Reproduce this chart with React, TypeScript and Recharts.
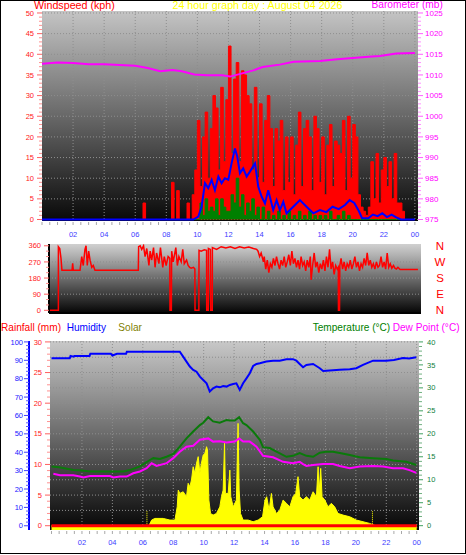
import React from "react";
import { ComposedChart, Area, Line, XAxis, YAxis, CartesianGrid, ReferenceLine } from "recharts";

const FONT = "'Liberation Sans', Arial, Helvetica, sans-serif";

// ---------- tick labels ----------
const hourTicks = [2, 4, 6, 8, 10, 12, 14, 16, 18, 20, 22, 24];
const hourLabels = ["02", "04", "06", "08", "10", "12", "14", "16", "18", "20", "22", "00"];
const windTicks = [0, 5, 10, 15, 20, 25, 30, 35, 40, 45, 50];
const baroTicks = [975, 980, 985, 990, 995, 1000, 1005, 1010, 1015, 1020, 1025];
const dirTicks = [0, 90, 180, 270, 360];
const compassLabels = ["N", "E", "S", "W", "N"];
const humidityTicks = [0, 10, 20, 30, 40, 50, 60, 70, 80, 90, 100];
const rainTicks = [0, 5, 10, 15, 20, 25, 30];
const rainGrid = [2.5, 5, 7.5, 10, 12.5, 15, 17.5, 20, 22.5, 25, 27.5, 30];
const tempTicks = [0, 5, 10, 15, 20, 25, 30, 35, 40];

const range = (a: number, b: number, s: number) => {
  const out: number[] = [];
  for (let v = a; v <= b + 1e-9; v += s) out.push(Math.round(v * 1000) / 1000);
  return out;
};
const hourMinor = range(0, 24, 0.5);
const windMinor = range(0, 50, 1);
const baroMinor = range(975, 1025, 1);
const dirMinor = range(0, 360, 30);
const humMinor = range(0, 100, 2);
const rainMinor = range(0, 30, 1);
const tempMinor = range(0, 40, 1);

// ---------- panel 1 : wind (kph), 10-minute samples from 00:00 ----------
const windGust = [
  0, 0, 0, 0, 0, 0, // 00
  0, 0, 0, 0, 0, 0, // 01
  0, 0, 0, 0, 0, 0, // 02
  0, 0, 0, 0, 0, 0, // 03
  0, 0, 0, 0, 0, 0, // 04
  0, 0, 0, 0, 0, 0, // 05
  0, 0, 0, 4, 0, 0, // 06
  0, 0, 0, 0, 0, 0, // 07
  0, 0, 9, 0, 7, 0, // 08
  0, 0, 4, 0, 6, 12, // 09
  24, 8, 20, 26, 10, 22, // 10
  30, 27, 12, 32, 14, 29, // 11
  42, 16, 34, 38, 14, 36, // 12
  35, 30, 28, 12, 32, 10, // 13
  28, 9, 24, 30, 22, 8, // 14
  22, 19, 24, 7, 20, 9, // 15
  20, 6, 18, 26, 8, 22, // 16
  24, 20, 7, 25, 22, 9, // 17
  20, 6, 18, 23, 8, 19, // 18
  18, 16, 24, 7, 25, 10, // 19
  23, 20, 6, 3, 2, 1, // 20
  3, 14, 5, 16, 4, 12, // 21
  15, 8, 14, 5, 16, 4, // 22
  4, 2, 0, 0, 0, 0, // 23
  0,
];
const windGreen = [
  0, 0, 0, 0, 0, 0, // 00
  0, 0, 0, 0, 0, 0, // 01
  0, 0, 0, 0, 0, 0, // 02
  0, 0, 0, 0, 0, 0, // 03
  0, 0, 0, 0, 0, 0, // 04
  0, 0, 0, 0, 0, 0, // 05
  0, 0, 0, 0, 0, 0, // 06
  0, 0, 0, 0, 0, 0, // 07
  0, 0, 0, 0, 0, 0, // 08
  0, 0, 0, 0, 0, 0, // 09
  0, 4, 1, 5, 2, 3, // 10
  2, 5, 1, 5, 3, 2, // 11
  2, 6, 4, 10, 3, 6, // 12
  1, 4, 2, 5, 1, 3, // 13
  0, 3, 0, 2, 0, 1, // 14
  0, 2, 0, 1, 0, 2, // 15
  0, 1, 0, 2, 0, 1, // 16
  0, 2, 0, 1, 0, 1, // 17
  0, 1, 0, 2, 0, 0, // 18
  1, 0, 2, 0, 1, 0, // 19
  0, 0, 0, 0, 0, 0, // 20
  0, 0, 0, 0, 0, 0, // 21
  0, 0, 0, 0, 0, 0, // 22
  0, 0, 0, 0, 0, 0, // 23
  0,
];
// [hour, kph]
const windAverage: [number, number][] = [
  [0, 0], [9.74, 0], [10.06, 0.7], [10.27, 3.1], [10.49, 8.8], [10.7, 7.6], [10.92, 9.6], [11.13, 7.1],
  [11.35, 10.4], [11.56, 8.8], [11.77, 10.0], [11.99, 9.6], [12.2, 13.6], [12.42, 17.2], [12.57, 15.2],
  [12.74, 11.2], [12.95, 12.4], [13.17, 10.4], [13.38, 11.6], [13.71, 13.6], [13.92, 7.9], [14.14, 5.5],
  [14.35, 3.9], [14.56, 7.1], [14.88, 2.3], [15.1, 4.7], [15.31, 2.3], [15.53, 4.3], [15.74, 1.5],
  [16.17, 3.1], [16.6, 4.7], [17.03, 3.1], [17.46, 1.5], [17.89, 2.3], [18.3, 1.8], [18.7, 3.1],
  [19.1, 2.5], [19.5, 3.5], [19.8, 4.7], [20.1, 4.0], [20.4, 2.0], [20.6, 0.3], [21.0, 0.3], [21.3, 1.2],
  [21.6, 0.8], [21.9, 1.5], [22.2, 0.6], [22.5, 1.2], [22.8, 0.5], [23.1, 0], [24, 0],
];
// [hour, mb]
const barometer: [number, number][] = [
  [0, 1012.7], [1, 1013.0], [2, 1012.9], [3, 1012.6], [4, 1012.6], [5, 1012.4], [6, 1012.2], [6.8, 1011.7],
  [7.6, 1010.9], [8.4, 1011.2], [9.0, 1010.9], [9.8, 1010.1], [10.6, 1009.9], [11.6, 1009.9], [12.1, 1009.6],
  [12.7, 1010.2], [13.6, 1011.1], [14.2, 1011.9], [15.3, 1012.5], [16.2, 1013.2], [17.9, 1013.4], [19, 1013.8],
  [20, 1014.1], [21, 1014.4], [21.75, 1014.6], [22.8, 1015.2], [24, 1015.3],
];

// ---------- panel 2 : wind direction [hour, degrees] ----------
const windDirection: [number, number][] = [
  [0, 0], [0.61, 0], [0.61, 355], [0.7, 345], [0.78, 290], [0.84, 224], [1.5, 224], [1.54, 262], [1.58, 224],
  [2.02, 224], [2.13, 300], [2.23, 250], [2.34, 340], [2.41, 360], [2.49, 250], [2.58, 330], [2.67, 280],
  [2.78, 240], [2.88, 250], [2.99, 224], [5.81, 224], [5.83, 355], [5.93, 360], [6.03, 340], [6.15, 360],
  [6.25, 300], [6.36, 345], [6.5, 250], [6.58, 330], [6.68, 280], [6.8, 350], [6.9, 240], [7.0, 320],
  [7.15, 260], [7.25, 350], [7.4, 240], [7.5, 300], [7.62, 250], [7.75, 300], [7.86, 290], [7.87, 0],
  [7.96, 0], [7.98, 330], [8.08, 270], [8.25, 350], [8.35, 250], [8.45, 300], [8.6, 270], [8.7, 340],
  [8.8, 260], [8.95, 280], [9.05, 250], [9.15, 240], [9.25, 235], [9.4, 240], [9.49, 230], [9.5, 0],
  [9.75, 0], [9.76, 335], [9.9, 330], [10.1, 338], [10.25, 335], [10.26, 0], [10.36, 0], [10.37, 345],
  [10.5, 340], [10.52, 0], [10.62, 0], [10.63, 350], [10.9, 340], [11.2, 355], [11.5, 348], [11.8, 355],
  [12.1, 345], [12.4, 355], [12.7, 348], [13.0, 353], [13.3, 345], [13.51, 340], [13.6, 330], [13.7, 300],
  [13.8, 320], [13.95, 270], [14.0, 300], [14.1, 230], [14.2, 280], [14.3, 210], [14.4, 260], [14.5, 240],
  [14.6, 290], [14.7, 250], [14.8, 300], [14.9, 260], [15.0, 230], [15.1, 280], [15.2, 250], [15.3, 300],
  [15.4, 240], [15.5, 270], [15.6, 310], [15.7, 250], [15.8, 330], [15.9, 260], [16.0, 290], [16.1, 240],
  [16.2, 280], [16.3, 230], [16.4, 300], [16.5, 250], [16.6, 270], [16.7, 220], [16.8, 280], [16.9, 240],
  [17.0, 300], [17.05, 170], [17.15, 250], [17.25, 320], [17.35, 240], [17.45, 270], [17.55, 210],
  [17.65, 260], [17.75, 230], [17.85, 280], [17.95, 220], [18.05, 300], [18.15, 240], [18.25, 340],
  [18.35, 230], [18.45, 270], [18.55, 200], [18.65, 250], [18.75, 230], [18.82, 240], [18.83, 0], [18.9, 0],
  [18.92, 250], [19.0, 290], [19.1, 230], [19.2, 270], [19.3, 220], [19.4, 260], [19.5, 240], [19.6, 280],
  [19.7, 230], [19.8, 260], [19.9, 300], [20.0, 240], [20.1, 270], [20.2, 220], [20.3, 260], [20.4, 240],
  [20.5, 290], [20.6, 250], [20.7, 320], [20.8, 250], [20.9, 280], [21.0, 240], [21.1, 260], [21.2, 230],
  [21.3, 270], [21.4, 240], [21.5, 250], [21.6, 300], [21.7, 240], [21.8, 270], [21.9, 230], [22.0, 320],
  [22.1, 240], [22.2, 260], [22.3, 235], [22.41, 250], [22.5, 235], [22.6, 230], [22.7, 240], [22.84, 228],
  [24, 228],
];

// ---------- panel 3 ----------
const humidity: [number, number][] = [
  [0, 91.1], [1.2, 91.1], [1.25, 92.4], [1.45, 92.0], [1.5, 92.4], [2.5, 92.4], [2.55, 93.5], [3.9, 93.5],
  [4.0, 92.6], [4.3, 93.5], [4.9, 93.5], [4.95, 94.7], [8.43, 94.7], [8.65, 92.0], [8.87, 89.3], [9.09, 86.6],
  [9.31, 84.8], [9.53, 83.8], [9.75, 81.1], [9.97, 79.3], [10.19, 77.5], [10.4, 73.0], [10.62, 74.8],
  [10.84, 75.7], [11.06, 75.3], [11.28, 76.0], [11.5, 75.7], [11.72, 76.6], [11.94, 77.1], [12.15, 77.5],
  [12.37, 73.9], [12.59, 77.5], [12.81, 80.2], [13.03, 83.0], [13.25, 86.9], [13.47, 88.0], [13.69, 88.4],
  [14.12, 89.3], [14.56, 89.8], [15.0, 89.8], [15.44, 90.6], [15.87, 90.6], [16.09, 89.8], [16.31, 88.0],
  [16.53, 86.2], [16.75, 87.5], [17.19, 88.0], [17.4, 86.9], [17.63, 85.7], [17.85, 84.2], [18.28, 84.4],
  [18.94, 84.8], [19.6, 85.1], [20.03, 85.7], [20.47, 87.5], [21.13, 89.8], [22.0, 89.8], [22.5, 90.2],
  [23.1, 91.2], [23.5, 91.0], [23.97, 91.7],
];
const temperature: [number, number][] = [
  [0, 12.9], [0.5, 12.7], [1.43, 12.1], [2.0, 12.0], [2.53, 11.8], [3.5, 11.8], [4.72, 11.8], [5.15, 12.1],
  [5.81, 12.9], [6.47, 14.3], [6.69, 14.7], [7.12, 14.5], [7.56, 15.0], [8.0, 15.6], [8.43, 17.2],
  [8.87, 19.0], [9.31, 20.5], [9.75, 21.9], [9.97, 22.4], [10.3, 23.6], [10.62, 22.7], [11.06, 22.4],
  [11.28, 22.7], [11.5, 23.0], [11.72, 22.9], [12.04, 22.9], [12.33, 23.6], [12.59, 22.3], [12.81, 21.9],
  [13.25, 20.5], [13.69, 18.7], [13.9, 17.1], [14.34, 16.9], [14.78, 16.1], [15.44, 15.0], [15.87, 15.2],
  [16.31, 15.8], [16.75, 15.2], [17.19, 15.0], [17.63, 15.9], [18.06, 16.1], [18.5, 16.1], [18.94, 15.8],
  [19.6, 15.4], [20.25, 14.9], [21.13, 14.7], [22.0, 14.5], [22.44, 14.2], [23.31, 13.9], [23.97, 13.2],
];
const dewPoint: [number, number][] = [
  [0.12, 11.3], [0.56, 11.0], [1.43, 11.0], [1.87, 10.7], [2.09, 10.5], [2.53, 10.8], [3.84, 10.8],
  [4.06, 10.5], [4.5, 10.7], [4.94, 10.7], [5.37, 11.4], [5.81, 11.8], [6.25, 12.5], [6.58, 13.6],
  [6.9, 13.0], [7.56, 13.6], [8.0, 14.7], [8.43, 16.1], [8.87, 17.2], [9.31, 17.4], [9.75, 18.7],
  [10.3, 19.0], [10.62, 18.3], [11.06, 18.4], [11.5, 18.1], [12.04, 18.3], [12.33, 19.0], [12.59, 18.3],
  [13.03, 18.3], [13.47, 17.2], [13.9, 15.2], [14.56, 14.9], [15.22, 13.9], [15.87, 13.6], [16.31, 13.9],
  [16.53, 13.4], [16.75, 13.0], [17.19, 13.2], [17.85, 13.4], [18.5, 13.4], [18.94, 13.0], [19.6, 12.5],
  [20.25, 12.9], [21.13, 13.0], [21.8, 12.9], [22.44, 12.5], [23.1, 12.5], [23.53, 12.1], [23.97, 11.5],
];
// solar radiation (W/m²)
const solar: [number, number][] = [
  [0, 0], [6.4, 0], [6.58, 31], [6.79, 40], [7.34, 40], [7.78, 31], [8.11, 31], [8.26, 103], [8.33, 194],
  [8.43, 176], [8.65, 185], [8.87, 158], [8.98, 231], [9.09, 212], [9.2, 249], [9.31, 321], [9.42, 285],
  [9.53, 340], [9.64, 376], [9.75, 285], [9.85, 340], [9.97, 385], [10.08, 394], [10.19, 430], [10.25, 412],
  [10.34, 140], [10.45, 67], [10.62, 58], [10.84, 67], [11.06, 103], [11.17, 158], [11.28, 194],
  [11.37, 449], [11.43, 176], [11.61, 176], [11.72, 303], [11.78, 158], [11.94, 103], [12.15, 140],
  [12.26, 557], [12.33, 194], [12.42, 67], [12.59, 31], [12.92, 31], [13.25, 22], [13.58, 31], [13.87, 49],
  [14.03, 140], [14.14, 158], [14.3, 85], [14.45, 176], [14.56, 103], [14.78, 67], [15.0, 85], [15.22, 140],
  [15.44, 122], [15.66, 103], [15.87, 158], [16.05, 176], [16.2, 267], [16.31, 158], [16.53, 140],
  [16.75, 158], [16.97, 140], [17.19, 185], [17.41, 158], [17.52, 321], [17.58, 176], [17.69, 312],
  [17.78, 158], [17.96, 140], [18.17, 103], [18.39, 122], [18.61, 103], [18.83, 67], [19.16, 58], [19.6, 49],
  [20.03, 31], [20.47, 22], [20.9, 13], [21.24, 2], [21.3, 0], [24, 0],
];
const rainfall: [number, number][] = [[0, 0], [24, 0]];
const sunTimes = [6.27, 21.09];

const pts = (arr: [number, number][]) => arr.map(([t, v]) => ({ t, v }));
const every10 = (arr: number[]) => arr.map((v, i) => ({ t: i / 6, v }));

const gustData = every10(windGust);
const greenData = every10(windGreen);
const avgData = pts(windAverage);
const baroData = pts(barometer);
const dirData = pts(windDirection);
const humData = pts(humidity);
const tempData = pts(temperature);
const dewData = pts(dewPoint);
const solarData = pts(solar);
const rainData = pts(rainfall);

// ---------- tick renderers ----------
type YOpt = {
  side: "left" | "right";
  majors: number[];
  labels?: string[];
  labelColor: string;
  majorColor: string;
  minorColor: string;
  majorLen: number;
  minorLen: number;
  gap: number;
  fontSize: number;
  anchor?: "start" | "middle" | "end";
};
const yTick = (o: YOpt) => (props: any) => {
  const { x, y, payload } = props;
  const v = payload.value;
  const i = o.majors.findIndex((m) => Math.abs(m - v) < 1e-6);
  const major = i >= 0;
  const d = o.side === "left" ? -1 : 1;
  const len = major ? o.majorLen : o.minorLen;
  return (
    <g>
      {len > 0 && (
        <line x1={x} x2={x + d * len} y1={y} y2={y} stroke={major ? o.majorColor : o.minorColor} strokeWidth={1} />
      )}
      {major && (
        <text
          x={x + d * (o.majorLen + o.gap)}
          y={y}
          dy="0.35em"
          textAnchor={o.anchor ?? (d < 0 ? "end" : "start")}
          fill={o.labelColor}
          fontSize={o.fontSize}
          fontFamily={FONT}
        >
          {o.labels ? o.labels[i] : String(v)}
        </text>
      )}
    </g>
  );
};
const xTick = (gap: number) => (props: any) => {
  const { x, y, payload } = props;
  const v = payload.value;
  const i = hourTicks.findIndex((m) => Math.abs(m - v) < 1e-6);
  return (
    <g>
      <line x1={x} x2={x} y1={y + 1} y2={y + 4} stroke="#a8a8a8" strokeWidth={1} />
      {i >= 0 && (
        <text x={x} y={y + gap} dy="0.71em" textAnchor="middle" fill="#3c3cff" fontSize={7.5} fontFamily={FONT}>
          {hourLabels[i]}
        </text>
      )}
    </g>
  );
};

const noAxis = { axisLine: false, tickLine: false, tickSize: 0, tickMargin: 0, interval: 0 as const, allowDataOverflow: true };

const Panel1 = () => (
  <div style={{ position: "absolute", left: 0, top: 0 }}>
    <ComposedChart width={466} height={250} margin={{ top: 11, right: 0, bottom: 0, left: 0 }}>
      <XAxis type="number" dataKey="t" domain={[0, 24.2]} ticks={hourMinor} height={29} tick={xTick(10.5)} {...noAxis} />
      <YAxis
        yAxisId="wind"
        type="number"
        domain={[-0.36, 50.48]}
        ticks={windMinor}
        width={42}
        tick={yTick({ side: "left", majors: windTicks, labelColor: "#ff2020", majorColor: "#ff6060", minorColor: "#ff9090", majorLen: 5, minorLen: 3, gap: 3, fontSize: 7.5 })}
        {...noAxis}
      />
      <YAxis
        yAxisId="baro"
        orientation="right"
        type="number"
        domain={[974.64, 1025.48]}
        ticks={baroMinor}
        width={48}
        tick={yTick({ side: "right", majors: baroTicks, labelColor: "#ff00ff", majorColor: "#ff60ff", minorColor: "#ff90ff", majorLen: 5, minorLen: 3, gap: 2, fontSize: 8 })}
        {...noAxis}
      />
      <CartesianGrid yAxisId="wind" fill="url(#bg1)" fillOpacity={1} stroke="#8e8e8e" strokeDasharray="1 2" horizontalValues={windTicks} verticalValues={hourTicks} />
      <Area yAxisId="wind" data={gustData} dataKey="v" type="stepAfter" stroke="#ff0000" strokeWidth={1} fill="#ff0000" fillOpacity={1} isAnimationActive={false} />
      <Area yAxisId="wind" data={greenData} dataKey="v" type="stepAfter" stroke="#008000" strokeWidth={1} fill="#008000" fillOpacity={1} isAnimationActive={false} />
      <Line yAxisId="wind" data={avgData} dataKey="v" type="linear" stroke="#0000ff" strokeWidth={2} dot={false} isAnimationActive={false} />
      <Line yAxisId="baro" data={baroData} dataKey="v" type="linear" stroke="#ff00ff" strokeWidth={2} dot={false} isAnimationActive={false} />
    </ComposedChart>
  </div>
);

const Panel2 = () => (
  <div style={{ position: "absolute", left: 0, top: 238 }}>
    <ComposedChart width={466} height={80} margin={{ top: 6, right: 0, bottom: 5, left: 0 }}>
      <XAxis type="number" dataKey="t" domain={[0, 24.2]} hide allowDataOverflow />
      <YAxis
        yAxisId="dir"
        type="number"
        domain={[-15, 370]}
        ticks={dirMinor}
        width={49}
        interval={0}
        allowDataOverflow
        tickSize={0}
        tickMargin={0}
        tickLine={false}
        axisLine={{ stroke: "#000000", strokeWidth: 2 }}
        tick={yTick({ side: "left", majors: dirTicks, labelColor: "#ff2020", majorColor: "#ff6060", minorColor: "#ff9090", majorLen: 5, minorLen: 3, gap: 3, fontSize: 7.5 })}
      />
      <YAxis
        yAxisId="compass"
        orientation="right"
        type="number"
        domain={[-15, 370]}
        ticks={dirTicks}
        width={45}
        tick={yTick({ side: "right", majors: dirTicks, labels: compassLabels, labelColor: "#ff0000", majorColor: "#ff0000", minorColor: "#ff0000", majorLen: 0, minorLen: 0, gap: 19, fontSize: 11.5, anchor: "middle" })}
        {...noAxis}
      />
      <CartesianGrid yAxisId="dir" fill="url(#bg2)" fillOpacity={1} stroke="#8e8e8e" strokeDasharray="1 2" horizontalValues={[90, 180, 270]} vertical={false} />
      <ReferenceLine yAxisId="dir" y={-15} stroke="#000000" strokeWidth={2} ifOverflow="visible" />
      <Line yAxisId="dir" data={dirData} dataKey="v" type="linear" stroke="#ff0000" strokeWidth={1.5} dot={false} isAnimationActive={false} />
    </ComposedChart>
  </div>
);

// left axes: ids sort so that rainfall sits next to the plot and humidity outside it
const Panel3 = () => (
  <div style={{ position: "absolute", left: 0, top: 330 }}>
    <ComposedChart width={466} height={225} margin={{ top: 11, right: 0, bottom: 5, left: 0 }}>
      <XAxis type="number" dataKey="t" domain={[-0.1, 24.15]} ticks={hourMinor} height={20} tick={xTick(10)} {...noAxis} />
      <YAxis
        yAxisId="a_rain"
        type="number"
        domain={[-0.7, 30.15]}
        ticks={rainMinor}
        width={21}
        tick={yTick({ side: "left", majors: rainTicks, labelColor: "#ff2020", majorColor: "#ff6060", minorColor: "#ff9090", majorLen: 5, minorLen: 3, gap: 3, fontSize: 7.5 })}
        {...noAxis}
      />
      <YAxis
        yAxisId="b_hum"
        type="number"
        domain={[-2.3, 100.5]}
        ticks={humMinor}
        width={29}
        interval={0}
        allowDataOverflow
        tickSize={0}
        tickMargin={0}
        tickLine={false}
        axisLine={{ stroke: "#0000ff", strokeWidth: 2 }}
        tick={yTick({ side: "left", majors: humidityTicks, labelColor: "#2020ff", majorColor: "#4040ff", minorColor: "#6060ff", majorLen: 5, minorLen: 3, gap: 1, fontSize: 7.5 })}
      />
      <YAxis
        yAxisId="temp"
        orientation="right"
        type="number"
        domain={[-0.94, 40.2]}
        ticks={tempMinor}
        width={47}
        tick={yTick({ side: "right", majors: tempTicks, labelColor: "#108040", majorColor: "#40a060", minorColor: "#70b080", majorLen: 4, minorLen: 3, gap: 4, fontSize: 7.5 })}
        {...noAxis}
      />
      <YAxis yAxisId="solar" type="number" domain={[-23, 1005]} hide allowDataOverflow />
      <CartesianGrid yAxisId="a_rain" fill="url(#bg3)" fillOpacity={1} stroke="#8e8e8e" strokeDasharray="1 2" horizontalValues={rainGrid} verticalValues={hourTicks} />
      <Line yAxisId="b_hum" data={humData} dataKey="v" type="linear" stroke="#0000ff" strokeWidth={2} dot={false} isAnimationActive={false} />
      <Line yAxisId="temp" data={tempData} dataKey="v" type="linear" stroke="#0a7a0a" strokeWidth={2} dot={false} isAnimationActive={false} />
      <Line yAxisId="temp" data={dewData} dataKey="v" type="linear" stroke="#ff00ff" strokeWidth={2} dot={false} isAnimationActive={false} />
      <Area yAxisId="solar" data={solarData} dataKey="v" type="linear" baseValue="dataMin" stroke="#ffff00" strokeWidth={1} fill="#ffff00" fillOpacity={1} isAnimationActive={false} />
      {sunTimes.map((t) => (
        <ReferenceLine
          key={t}
          yAxisId="solar"
          segment={[{ x: t, y: 0 }, { x: t, y: 80 }]}
          stroke="#ffff00"
          strokeWidth={1}
          strokeDasharray="1 1"
        />
      ))}
      <Line yAxisId="a_rain" data={rainData} dataKey="v" type="linear" stroke="#ff0000" strokeWidth={3} dot={false} isAnimationActive={false} />
    </ComposedChart>
  </div>
);

export default function App() {
  return (
    <div style={{ position: "absolute", left: 0, top: 0, width: 466, height: 555, background: "#ffffff", overflow: "hidden", fontFamily: FONT }}>
      <svg width={466} height={555} style={{ position: "absolute", left: 0, top: 0 }}>
        <defs>
          <linearGradient id="bg1" x1="0" y1="0" x2="0" y2="1">
            <stop offset="0" stopColor="#c4c4c4" />
            <stop offset="0.5" stopColor="#686868" />
            <stop offset="1" stopColor="#080808" />
          </linearGradient>
          <linearGradient id="bg2" x1="0" y1="0" x2="0" y2="1">
            <stop offset="0" stopColor="#d0d0d0" />
            <stop offset="0.15" stopColor="#b4b4b4" />
            <stop offset="1" stopColor="#050505" />
          </linearGradient>
          <linearGradient id="bg3" x1="0" y1="0" x2="0" y2="1">
            <stop offset="0" stopColor="#c8c8c8" />
            <stop offset="0.5" stopColor="#6a6a6a" />
            <stop offset="1" stopColor="#050505" />
          </linearGradient>
        </defs>
        <g fontFamily={FONT}>
          <text x={34} y={8.5} fontSize={10.7} fill="#ff0000">Windspeed (kph)</text>
          <text x={172.5} y={8.5} fontSize={10.7} fill="#ffff00">24 hour graph day : August 04 2026</text>
          <text x={371.5} y={8} fontSize={10.2} fill="#ff00ff">Barometer (mb)</text>
          <text x={1} y={330.5} fontSize={10.1} fill="#ff0000">Rainfall (mm)</text>
          <text x={66.7} y={330.5} fontSize={10.1} fill="#0000ff">Humidity</text>
          <text x={118.3} y={330.5} fontSize={10.1} fill="#808000">Solar</text>
          <text x={312.7} y={330.5} fontSize={10.1} fill="#008000">Temperature (°C)</text>
          <text x={392.7} y={330.5} fontSize={10.1} fill="#ff00ff">Dew Point (°C)</text>
        </g>
      </svg>
      <Panel1 />
      <Panel2 />
      <Panel3 />
      <div style={{ position: "absolute", left: 0, top: 0, width: 466, height: 554, border: "1px solid #000", boxSizing: "border-box", pointerEvents: "none" }} />
    </div>
  );
}
